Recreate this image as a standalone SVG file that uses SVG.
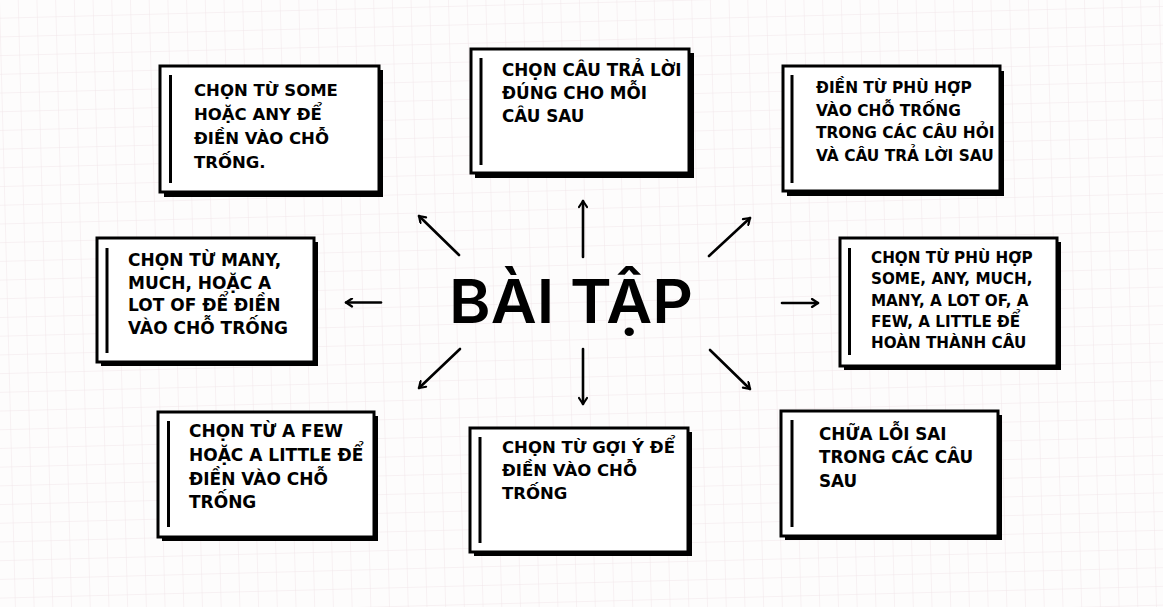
<svg xmlns="http://www.w3.org/2000/svg" width="1163" height="607" viewBox="0 0 1163 607">
  <defs>
    <pattern id="grid" width="18.7" height="18.7" patternUnits="userSpaceOnUse" patternTransform="rotate(-1.5)">
      <path d="M18.7 0 V18.7 M0 18.7 H18.7" fill="none" stroke="#f1e6e9" stroke-width="1"/>
    </pattern>
    <marker id="head" viewBox="0 0 10 10" refX="8" refY="5" markerWidth="10" markerHeight="10" markerUnits="userSpaceOnUse" orient="auto">
      <path d="M2 1 L8 5 L2 9" fill="none" stroke="#000" stroke-width="2.2" stroke-linecap="round" stroke-linejoin="round"/>
    </marker>
    <style>
      .shadow { fill: #000; }
      .card { fill: #fff; stroke: #000; stroke-width: 3; }
      .bar { stroke: #000; stroke-width: 3; }
      .lbl { font-family: "DejaVu Sans", "Liberation Sans", sans-serif; font-weight: bold; font-size: 16.5px; fill: #000; }
      .conn line { stroke: #000; stroke-width: 2.6; stroke-linecap: round; marker-end: url(#head); }
      .title { font-family: Inter, "Open Sans", "Liberation Sans", sans-serif; font-weight: 600; font-size: 61px; fill: #000; }
    </style>
  </defs>
  <rect width="1163" height="607" fill="#fdfcfc"/>
  <rect width="1163" height="607" fill="url(#grid)"/>

  <g id="center">
    <text class="title" x="571" y="323" text-anchor="middle" textLength="244" lengthAdjust="spacingAndGlyphs">BÀI TẬP</text>
  </g>

  <g id="connectors" class="conn">
    <line x1="583" y1="257" x2="583" y2="201"/>
    <line x1="583" y1="349" x2="583" y2="404"/>
    <line x1="459" y1="255" x2="419" y2="216"/>
    <line x1="709" y1="256" x2="750" y2="218"/>
    <line x1="460" y1="349" x2="419" y2="388"/>
    <line x1="710" y1="350" x2="750" y2="389"/>
    <line x1="381" y1="302.5" x2="346" y2="302.5"/>
    <line x1="782" y1="303" x2="818" y2="303"/>
  </g>

  <g id="node-top-left">
    <rect class="shadow" x="164" y="70" width="219" height="127"/>
    <rect class="card" x="160" y="66" width="219" height="126"/>
    <line class="bar" x1="170.5" y1="75" x2="170.5" y2="183"/>
    <text class="lbl" x="194" y="96">
      <tspan x="194">CHỌN TỪ SOME</tspan>
      <tspan x="194" dy="24">HOẶC ANY ĐỂ</tspan>
      <tspan x="194" dy="24">ĐIỀN VÀO CHỖ</tspan>
      <tspan x="194" dy="24">TRỐNG.</tspan>
    </text>
  </g>

  <g id="node-top-center">
    <rect class="shadow" x="475" y="53" width="219" height="125"/>
    <rect class="card" x="471" y="49" width="218" height="124"/>
    <line class="bar" x1="481" y1="58" x2="481" y2="165"/>
    <text class="lbl" x="502" y="76" style="font-size:16.8px">
      <tspan x="502">CHỌN CÂU TRẢ LỜI</tspan>
      <tspan x="502" dy="23">ĐÚNG CHO MỖI</tspan>
      <tspan x="502" dy="23">CÂU SAU</tspan>
    </text>
  </g>

  <g id="node-top-right">
    <rect class="shadow" x="787" y="71" width="217" height="125"/>
    <rect class="card" x="783" y="66" width="217" height="125"/>
    <line class="bar" x1="792" y1="75" x2="792" y2="183"/>
    <text class="lbl" x="816" y="93" style="font-size:15.4px">
      <tspan x="816">ĐIỀN TỪ PHÙ HỢP</tspan>
      <tspan x="816" dy="22.5">VÀO CHỖ TRỐNG</tspan>
      <tspan x="816" dy="22.5">TRONG CÁC CÂU HỎI</tspan>
      <tspan x="816" dy="22.5">VÀ CÂU TRẢ LỜI SAU</tspan>
    </text>
  </g>

  <g id="node-mid-left">
    <rect class="shadow" x="101" y="242" width="217" height="124"/>
    <rect class="card" x="97" y="238" width="217" height="124"/>
    <line class="bar" x1="107" y1="248" x2="107" y2="353"/>
    <text class="lbl" x="128" y="266" style="font-size:17px">
      <tspan x="128">CHỌN TỪ MANY,</tspan>
      <tspan x="128" dy="22.7">MUCH, HOẶC A</tspan>
      <tspan x="128" dy="22.7">LOT OF ĐỂ ĐIỀN</tspan>
      <tspan x="128" dy="22.7">VÀO CHỖ TRỐNG</tspan>
    </text>
  </g>

  <g id="node-mid-right">
    <rect class="shadow" x="844" y="242" width="217" height="128"/>
    <rect class="card" x="840" y="238" width="217" height="128"/>
    <line class="bar" x1="849.5" y1="248" x2="849.5" y2="355"/>
    <text class="lbl" x="871" y="263" style="font-size:15.2px">
      <tspan x="871">CHỌN TỪ PHÙ HỢP</tspan>
      <tspan x="871" dy="21.3">SOME, ANY, MUCH,</tspan>
      <tspan x="871" dy="21.3">MANY, A LOT OF, A</tspan>
      <tspan x="871" dy="21.3">FEW, A LITTLE ĐỂ</tspan>
      <tspan x="871" dy="21.3">HOÀN THÀNH CÂU</tspan>
    </text>
  </g>

  <g id="node-bottom-left">
    <rect class="shadow" x="162" y="416" width="216" height="125"/>
    <rect class="card" x="158" y="412" width="216" height="125"/>
    <line class="bar" x1="168.5" y1="421" x2="168.5" y2="527"/>
    <text class="lbl" x="189" y="437" style="font-size:17px">
      <tspan x="189">CHỌN TỪ A FEW</tspan>
      <tspan x="189" dy="23.8">HOẶC A LITTLE ĐỂ</tspan>
      <tspan x="189" dy="23.8">ĐIỀN VÀO CHỖ</tspan>
      <tspan x="189" dy="23.8">TRỐNG</tspan>
    </text>
  </g>

  <g id="node-bottom-center">
    <rect class="shadow" x="474" y="432" width="218" height="124"/>
    <rect class="card" x="470" y="428" width="218" height="124"/>
    <line class="bar" x1="480" y1="437" x2="480" y2="543"/>
    <text class="lbl" x="502" y="453">
      <tspan x="502">CHỌN TỪ GỢI Ý ĐỂ</tspan>
      <tspan x="502" dy="23">ĐIỀN VÀO CHỖ</tspan>
      <tspan x="502" dy="23">TRỐNG</tspan>
    </text>
  </g>

  <g id="node-bottom-right">
    <rect class="shadow" x="785" y="415" width="217" height="125"/>
    <rect class="card" x="781" y="411" width="217" height="125"/>
    <line class="bar" x1="792" y1="420" x2="792" y2="527"/>
    <text class="lbl" x="819" y="439.5" style="font-size:16.8px">
      <tspan x="819">CHỮA LỖI SAI</tspan>
      <tspan x="819" dy="23.5">TRONG CÁC CÂU</tspan>
      <tspan x="819" dy="23.5">SAU</tspan>
    </text>
  </g>
</svg>
